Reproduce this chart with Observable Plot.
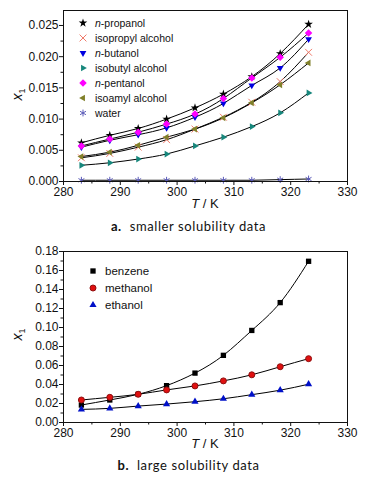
<!DOCTYPE html>
<html><head><meta charset="utf-8">
<script src="https://cdn.jsdelivr.net/npm/d3@7"></script>
<script src="https://cdn.jsdelivr.net/npm/@observablehq/plot@0.6"></script>
<style>
body{margin:0;background:#fff;font-family:"Liberation Sans",Arial,sans-serif;}
#wrap{position:relative;width:377px;height:477px;}
.blk{position:absolute;left:0;width:377px;}
.ov{position:absolute;white-space:nowrap;color:#111;}
.leg{position:absolute;font-size:10.5px;color:#111;}
.leg .row{display:flex;align-items:center;height:15px;}
.leg svg{margin-right:6px;}
.cap{position:absolute;left:0;width:377px;text-align:center;font-family:Lato,"Open Sans",sans-serif;font-size:13px;letter-spacing:0.6px;color:#111;}
</style></head>
<body><div id="wrap"></div>
<script>
// ---- data ----
const T = [283.15, 288.15, 293.15, 298.15, 303.15, 308.15, 313.15, 318.15, 323.15];
const xTicks = [280, 290, 300, 310, 320, 330];
const xMinor = [285, 295, 305, 315, 325];

// chart a: smaller solubility data
const namesA = ["n-propanol", "isopropyl alcohol", "n-butanol", "isobutyl alcohol", "n-pentanol", "isoamyl alcohol", "water"];
const labelsA = ["<i>n</i>-propanol", "isopropyl alcohol", "<i>n</i>-butanol", "isobutyl alcohol", "<i>n</i>-pentanol", "isoamyl alcohol", "water"];
const nPropanol = [0.0062, 0.0074, 0.0085, 0.0100, 0.0118, 0.0140, 0.0168, 0.0205, 0.0252];
const isopropyl = [0.0038, 0.0045, 0.0055, 0.0067, 0.0084, 0.0103, 0.0127, 0.0160, 0.0207];
const nButanol  = [0.0055, 0.0066, 0.0075, 0.0086, 0.0103, 0.0125, 0.0154, 0.0182, 0.0228];
const isobutyl  = [0.0026, 0.0030, 0.0036, 0.0044, 0.0057, 0.0071, 0.0088, 0.0110, 0.0142];
const nPentanol = [0.0057, 0.0068, 0.0079, 0.0092, 0.0108, 0.0133, 0.0166, 0.0199, 0.0238];
const isoamyl   = [0.0040, 0.0047, 0.0058, 0.0071, 0.0084, 0.0102, 0.0126, 0.0155, 0.0190];
const water     = [0.0002, 0.0002, 0.0002, 0.0002, 0.0002, 0.0002, 0.0002, 0.0003, 0.0004];
const yTicksA = [0, 0.005, 0.010, 0.015, 0.020, 0.025];
const yMinorA = [0.0025, 0.0075, 0.0125, 0.0175, 0.0225];

// chart b: large solubility data
const namesB = ["benzene", "methanol", "ethanol"];
const benzene  = [0.0184, 0.0237, 0.0297, 0.0388, 0.0520, 0.0707, 0.0969, 0.1262, 0.1697];
const methanol = [0.0237, 0.0265, 0.0297, 0.0343, 0.0385, 0.0438, 0.0502, 0.0587, 0.0672];
const ethanol  = [0.0138, 0.0149, 0.0173, 0.0194, 0.0219, 0.0250, 0.0293, 0.0340, 0.0403];
const yTicksB = [0, 0.02, 0.04, 0.06, 0.08, 0.10, 0.12, 0.14, 0.16, 0.18];
const yMinorB = [0.01, 0.03, 0.05, 0.07, 0.09, 0.11, 0.13, 0.15, 0.17];

// ---- symbols ----
function poly(pts){return {draw(ctx,size){const r=Math.sqrt(size/Math.PI)*1.25;pts.forEach(([a,b],i)=>i?ctx.lineTo(a*r,b*r):ctx.moveTo(a*r,b*r));ctx.closePath();}};}
const triDown = poly([[0,1],[-0.87,-0.5],[0.87,-0.5]]);
const triUp = poly([[0,-1],[-0.87,0.5],[0.87,0.5]]);
const triRight = poly([[1,0],[-0.5,-0.87],[-0.5,0.87]]);
const triLeft = poly([[-1,0],[0.5,-0.87],[0.5,0.87]]);
const diamond = poly([[0,-1],[1,0],[0,1],[-1,0]]);

const styleA = [
  {sym:d3.symbolStar, fill:"#000", stroke:"none", r:2.7},
  {sym:d3.symbolTimes, fill:"none", stroke:"#f07a6a", r:3.2},
  {sym:triDown, fill:"#0000e0", stroke:"none", r:3.1},
  {sym:triRight, fill:"#17877c", stroke:"none", r:3.1},
  {sym:diamond, fill:"#ff00ff", stroke:"none", r:3.0},
  {sym:triLeft, fill:"#80802a", stroke:"none", r:3.1},
  {sym:d3.symbolAsterisk, fill:"none", stroke:"#5a5ab8", r:3.2}
];
const styleB = [
  {sym:d3.symbolSquare, fill:"#000", stroke:"none", r:3.0},
  {sym:d3.symbolCircle, fill:"#e01010", stroke:"#901010", r:3.0},
  {sym:triUp, fill:"#0010c8", stroke:"none", r:3.3}
];

const seriesA = [nPropanol, isopropyl, nButanol, isobutyl, nPentanol, isoamyl, water];
const seriesB = [benzene, methanol, ethanol];
const toRows = (names, series) => names.flatMap((n,i)=>T.map((t,j)=>({series:n, T:t, x:series[i][j]})));
const rowsA = toRows(namesA, seriesA);
const rowsB = toRows(namesB, seriesB);

function makePlot(rows, names, styles, yDomain, yTicks, yMinor, fmt, h, mt){
  return Plot.plot({
    width:377, height:h, marginTop:mt, marginBottom:31, marginLeft:63, marginRight:30,
    style:{fontFamily:"'Liberation Sans',Arial,sans-serif", fontSize:"12px", color:"#111", background:"transparent"},
    x:{domain:[280,330]},
    y:{domain:yDomain},
    marks:[
      Plot.axisX({ticks:xTicks, tickSize:4, tickPadding:2, label:null, tickFormat:d=>String(d)}),
      Plot.axisX({ticks:xMinor, tickSize:2.5, label:null, tickFormat:()=>""}),
      Plot.axisY({ticks:yTicks, tickSize:4, tickPadding:1, label:null, tickFormat:fmt}),
      Plot.axisY({ticks:yMinor, tickSize:2.5, label:null, tickFormat:()=>""}),
      Plot.line(rows, {x:"T", y:"x", z:"series", curve:"natural", stroke:"#000", strokeWidth:1}),
      ...names.map((n,i)=>Plot.dot(rows.filter(d=>d.series===n), {x:"T", y:"x", symbol:styles[i].sym, r:styles[i].r, fill:styles[i].fill, stroke:styles[i].stroke, strokeWidth:1})),
      Plot.frame({stroke:"#111", strokeWidth:1})
    ]
  });
}

const wrap = document.getElementById("wrap");
function block(top, plot, legendLabels, styles, legPos, rowH, legFont, xlabY, ylabY, capY, capHTML){
  const b = document.createElement("div"); b.className="blk"; b.style.top=top+"px";
  b.appendChild(plot);
  const leg = document.createElement("div"); leg.className="leg";
  leg.style.left=legPos[0]+"px"; leg.style.top=legPos[1]+"px"; leg.style.fontSize=legFont+"px";
  legendLabels.forEach((lab,i)=>{
    const s=styles[i];
    const path=d3.symbol(s.sym, Math.PI*s.r*s.r)();
    const row=document.createElement("div"); row.className="row"; row.style.height=rowH+"px";
    row.innerHTML=`<svg width="12" height="12"><path transform="translate(6,6)" d="${path}" fill="${s.fill}" stroke="${s.stroke}" stroke-width="1"/></svg><span>${lab}</span>`;
    leg.appendChild(row);
  });
  b.appendChild(leg);
  const xl=document.createElement("div"); xl.className="ov"; xl.style.cssText+=`left:190px;top:${xlabY}px;font-size:13px;width:30px;text-align:center;`;
  xl.innerHTML="<i>T</i> / K"; b.appendChild(xl);
  const yl=document.createElement("div"); yl.className="ov"; yl.style.cssText+=`left:12px;top:${ylabY}px;font-size:14px;transform:rotate(-90deg);transform-origin:center;`;
  yl.innerHTML="<i>x</i><sub style='font-size:9px'>1</sub>"; b.appendChild(yl);
  wrap.appendChild(b);
  const cap=document.createElement("div"); cap.className="cap"; cap.style.top=capY+"px"; cap.innerHTML=capHTML;
  wrap.appendChild(cap);
}

const plotA = makePlot(rowsA, namesA, styleA, [0,0.0274], yTicksA, yMinorA, d3.format(".3f"), 212, 10);
block(0, plotA, labelsA, styleA, [77,15], 15, 10.5, 196, 85, 218, "<b>a.</b>&nbsp; smaller solubility data");

const plotB = makePlot(rowsB, namesB, styleB, [0,0.18], yTicksB, yMinorB, d3.format(".2f"), 213, 11);
block(240, plotB, namesB, styleB, [87,22], 17, 11.5, 196, 85, 457, "<b>b.</b>&nbsp; large solubility data");
</script></body></html>
